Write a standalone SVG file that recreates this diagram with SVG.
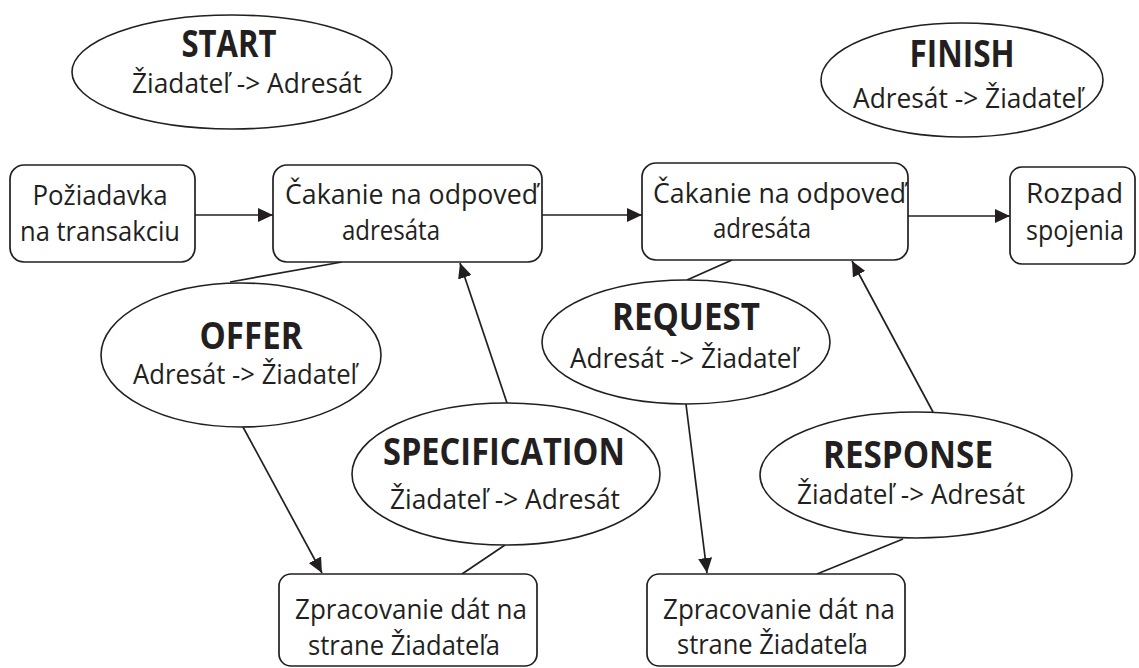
<svg xmlns="http://www.w3.org/2000/svg" width="1139" height="668" viewBox="0 0 1139 668">
<defs>
<marker id="arr" markerUnits="userSpaceOnUse" markerWidth="16" markerHeight="14" refX="15" refY="7" orient="auto">
<path d="M0,0 L15,7 L0,14 z" fill="#231f20"/>
</marker>
</defs>
<style>
.box{fill:#fff;stroke:#231f20;stroke-width:1.7}
.ell{fill:#fff;stroke:#231f20;stroke-width:1.6}
.t{font-family:"Open Sans","Noto Sans","Liberation Sans",sans-serif;font-size:28px;fill:#231f20}
.h{font-family:"Open Sans","Noto Sans","Liberation Sans",sans-serif;font-size:37px;font-weight:bold;fill:#231f20}
.ln{stroke:#231f20;stroke-width:1.7;fill:none}
.ar{stroke:#231f20;stroke-width:1.7;fill:none;marker-end:url(#arr)}
</style>
<rect width="1139" height="668" fill="#fff"/>
<g id="connectors">
<line class="ar" x1="195" y1="215" x2="273" y2="215"/>
<line class="ar" x1="542" y1="215" x2="642" y2="215"/>
<line class="ar" x1="908" y1="216" x2="1010" y2="216"/>
<line class="ln" x1="342" y1="262" x2="230" y2="282"/>
<line class="ar" x1="243" y1="427" x2="322" y2="573"/>
<line class="ar" x1="507" y1="403" x2="460" y2="263"/>
<line class="ln" x1="505" y1="545" x2="462" y2="574"/>
<line class="ln" x1="732" y1="260" x2="687" y2="280"/>
<line class="ar" x1="686" y1="404" x2="707" y2="573"/>
<line class="ar" x1="933" y1="412" x2="852" y2="261"/>
<line class="ln" x1="903" y1="539" x2="817" y2="574"/>
</g>
<g id="start">
<ellipse class="ell" cx="232" cy="72" rx="160" ry="57"/>
<text class="h" x="229" y="57" text-anchor="middle" textLength="95" lengthAdjust="spacingAndGlyphs">START</text>
<text class="t" x="247" y="93" text-anchor="middle" textLength="230" lengthAdjust="spacingAndGlyphs">Žiadateľ -&gt; Adresát</text>
</g>
<g id="finish">
<ellipse class="ell" cx="962" cy="80" rx="141" ry="57"/>
<text class="h" x="962" y="67" text-anchor="middle" textLength="105" lengthAdjust="spacingAndGlyphs">FINISH</text>
<text class="t" x="968" y="108" text-anchor="middle" textLength="230" lengthAdjust="spacingAndGlyphs">Adresát -&gt; Žiadateľ</text>
</g>
<g id="poziadavka">
<rect class="box" x="10" y="165" width="185" height="97" rx="14"/>
<text class="t" x="100" y="205" text-anchor="middle" textLength="135" lengthAdjust="spacingAndGlyphs">Požiadavka</text>
<text class="t" x="100" y="241" text-anchor="middle" textLength="160" lengthAdjust="spacingAndGlyphs">na transakciu</text>
</g>
<g id="cakanie1">
<rect class="box" x="273" y="165" width="269" height="97" rx="14"/>
<text class="t" x="285" y="204" textLength="253" lengthAdjust="spacingAndGlyphs">Čakanie na odpoveď</text>
<text class="t" x="342" y="240" textLength="98" lengthAdjust="spacingAndGlyphs">adresáta</text>
</g>
<g id="cakanie2">
<rect class="box" x="642" y="163" width="266" height="97" rx="14"/>
<text class="t" x="653" y="203" textLength="253" lengthAdjust="spacingAndGlyphs">Čakanie na odpoveď</text>
<text class="t" x="713" y="238" textLength="98" lengthAdjust="spacingAndGlyphs">adresáta</text>
</g>
<g id="rozpad">
<rect class="box" x="1010" y="167" width="125" height="97" rx="12"/>
<text class="t" x="1026" y="203" textLength="97" lengthAdjust="spacingAndGlyphs">Rozpad</text>
<text class="t" x="1026" y="240" textLength="98" lengthAdjust="spacingAndGlyphs">spojenia</text>
</g>
<g id="offer">
<ellipse class="ell" cx="241" cy="355" rx="140" ry="72"/>
<text class="h" x="251" y="349" text-anchor="middle" textLength="103" lengthAdjust="spacingAndGlyphs">OFFER</text>
<text class="t" x="245" y="384" text-anchor="middle" textLength="224" lengthAdjust="spacingAndGlyphs">Adresát -&gt; Žiadateľ</text>
</g>
<g id="request">
<ellipse class="ell" cx="686" cy="342" rx="144" ry="62"/>
<text class="h" x="686" y="330" text-anchor="middle" textLength="148" lengthAdjust="spacingAndGlyphs">REQUEST</text>
<text class="t" x="684" y="368" text-anchor="middle" textLength="228" lengthAdjust="spacingAndGlyphs">Adresát -&gt; Žiadateľ</text>
</g>
<g id="specification">
<ellipse class="ell" cx="506" cy="474" rx="154" ry="71"/>
<text class="h" x="504" y="465" text-anchor="middle" textLength="242" lengthAdjust="spacingAndGlyphs">SPECIFICATION</text>
<text class="t" x="505" y="509" text-anchor="middle" textLength="230" lengthAdjust="spacingAndGlyphs">Žiadateľ -&gt; Adresát</text>
</g>
<g id="response">
<ellipse class="ell" cx="916" cy="475" rx="156" ry="63"/>
<text class="h" x="908" y="468" text-anchor="middle" textLength="170" lengthAdjust="spacingAndGlyphs">RESPONSE</text>
<text class="t" x="911" y="504" text-anchor="middle" textLength="228" lengthAdjust="spacingAndGlyphs">Žiadateľ -&gt; Adresát</text>
</g>
<g id="zpracovanie1">
<rect class="box" x="279" y="574" width="258" height="92" rx="12"/>
<text class="t" x="295" y="619" textLength="232" lengthAdjust="spacingAndGlyphs">Zpracovanie dát na</text>
<text class="t" x="308" y="655" textLength="192" lengthAdjust="spacingAndGlyphs">strane Žiadateľa</text>
</g>
<g id="zpracovanie2">
<rect class="box" x="647" y="574" width="258" height="92" rx="12"/>
<text class="t" x="663" y="619" textLength="232" lengthAdjust="spacingAndGlyphs">Zpracovanie dát na</text>
<text class="t" x="677" y="654" textLength="191" lengthAdjust="spacingAndGlyphs">strane Žiadateľa</text>
</g>
</svg>
